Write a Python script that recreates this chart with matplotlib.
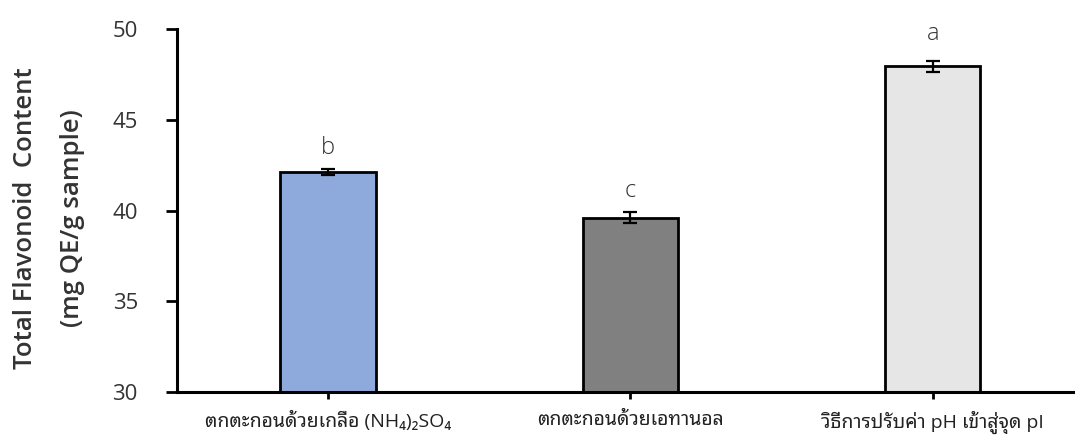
import matplotlib
matplotlib.use("Agg")
import matplotlib.pyplot as plt

plt.rcParams['font.family'] = ['Open Sans', 'Noto Sans Thai Looped', 'DejaVu Sans']

methods = ["ตกตะกอนด้วยเกลือ (NH₄)₂SO₄", "ตกตะกอนด้วยเอทานอล", "วิธีการปรับค่า pH เข้าสู่จุด pI"]
tfc = [42.12, 39.60, 47.95]
sd = [0.18, 0.30, 0.28]
letters = ["b", "c", "a"]
colors = ["#8EA9DB", "#808080", "#E6E6E6"]
letter_gap = [0.5, 0.5, 0.85]

fig = plt.figure(figsize=(10.75, 4.38), dpi=100)
ax = fig.add_axes([0.1644, 0.1057, 0.8356, 0.8274])

x = range(len(methods))
ax.bar(x, tfc, width=0.315, color=colors, edgecolor="black", linewidth=2.0, zorder=2)
ax.errorbar(x, tfc, yerr=sd, fmt="none", ecolor="black", elinewidth=1.6,
            capsize=5, capthick=1.6, zorder=3)

for i in x:
    ax.text(i, tfc[i] + sd[i] + letter_gap[i], letters[i], ha="center", va="bottom",
            fontsize=17, color="#333333", fontweight="light")

ax.set_ylim(30, 50)
ax.set_xlim(-0.5, 2.47)
ax.set_yticks([30, 35, 40, 45, 50])
ax.set_xticks(list(x))
ax.set_xticklabels(methods, fontsize=14, color="#222222")
ax.tick_params(axis="y", labelsize=16, labelcolor="#333333", length=8, width=2, pad=20)
ax.tick_params(axis="x", length=5, width=2, pad=9)

for s in ["top", "right"]:
    ax.spines[s].set_visible(False)
for s in ["left", "bottom"]:
    ax.spines[s].set_linewidth(2.2)

fig.text(0.0235, 0.502, "Total Flavonoid  Content", rotation=90, ha="center", va="center",
         fontsize=18.5, fontweight="semibold", color="#333333")
fig.text(0.0670, 0.502, "(mg QE/g sample)", rotation=90, ha="center", va="center",
         fontsize=18.5, fontweight="semibold", color="#333333")

fig.savefig("out.png")
